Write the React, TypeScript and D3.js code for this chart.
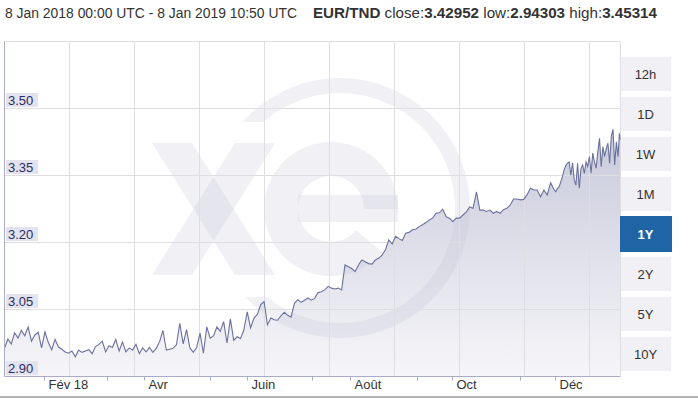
import React from "react";
import * as d3 from "d3";

// ---- data ----
const START = Date.UTC(2018, 0, 8, 0, 0);
const END = Date.UTC(2019, 0, 8, 10, 50);
const DAY = 86400000;

// day offsets from 8 Jan 2018 (every 2 days, then daily in December)
const dayOffsets: number[] = [...d3.range(0, 326, 2), ...d3.range(326, 365, 1), 364.8, 365.45];

const rates: number[] = [
  2.962, 2.983, 2.972, 2.997, 2.985, 3.002, 2.990, 3.010, 2.978, 2.992,
  2.998, 2.963, 2.999, 2.975, 2.959, 2.982, 2.965, 2.960, 2.954, 2.951,
  2.956, 2.943, 2.958, 2.953, 2.956, 2.959, 2.950, 2.966, 2.971, 2.978,
  2.954, 2.968, 2.964, 2.982, 2.956, 2.976, 2.954, 2.963, 2.958, 2.971,
  2.950, 2.963, 2.954, 2.964, 2.953, 2.962, 2.977, 3.002, 2.958, 2.960,
  2.962, 2.970, 3.018, 2.972, 3.004, 2.963, 2.953, 2.964, 2.996, 2.951,
  3.010, 2.985, 2.990, 3.010, 3.000, 3.022, 2.974, 3.028, 2.980, 2.988,
  2.984, 3.003, 3.044, 3.008, 3.030, 3.038, 3.060, 3.067, 3.015, 3.030,
  3.026, 3.025, 3.035, 3.043, 3.036, 3.032, 3.063, 3.071, 3.065, 3.070,
  3.075, 3.070, 3.074, 3.087, 3.089, 3.093, 3.101, 3.097, 3.095, 3.097,
  3.093, 3.149, 3.145, 3.141, 3.134, 3.149, 3.160, 3.156, 3.152, 3.151,
  3.160, 3.164, 3.171, 3.183, 3.205, 3.196, 3.213, 3.208, 3.204, 3.220,
  3.222, 3.228, 3.229, 3.235, 3.239, 3.244, 3.250, 3.254, 3.265, 3.266,
  3.274, 3.257, 3.254, 3.246, 3.254, 3.254, 3.261, 3.268, 3.279, 3.276,
  3.313, 3.272, 3.272, 3.269, 3.272, 3.265, 3.269, 3.265, 3.273, 3.276,
  3.283, 3.297, 3.297, 3.295, 3.296, 3.306, 3.321, 3.317, 3.317, 3.302,
  3.317, 3.306, 3.333,
  // daily, 26 Nov 2018 onwards
  3.318, 3.313, 3.320, 3.324, 3.335, 3.347, 3.362, 3.372, 3.377, 3.380,
  3.350, 3.378, 3.340, 3.328, 3.377, 3.321, 3.365, 3.373, 3.354, 3.380,
  3.370, 3.392, 3.355, 3.400, 3.380, 3.366, 3.403, 3.433, 3.369, 3.414,
  3.392, 3.410, 3.422, 3.377, 3.437, 3.453, 3.373, 3.425, 3.392, 3.444,
  3.430,
];

const yDomain = [2.9, 3.65];
const yTicks = [2.9, 3.05, 3.2, 3.35, 3.5];
const yGrid = [3.05, 3.2, 3.35, 3.5, 3.65];
const yTickLabels = ["2.90", "3.05", "3.20", "3.35", "3.50"];

const xLabelDates = ["2018-02-01", "2018-04-01", "2018-06-01", "2018-08-01", "2018-10-01", "2018-12-01"];
const xLabelTexts = ["Fév 18", "Avr", "Juin", "Août", "Oct", "Déc"];
const xMinorTickDates = ["2018-03-10", "2018-05-10", "2018-07-10", "2018-09-10", "2018-11-10"];

const buttons = ["12h", "1D", "1W", "1M", "1Y", "2Y", "5Y", "10Y"];
const activeButton = "1Y";

const headerRange = "8 Jan 2018 00:00 UTC - 8 Jan 2019 10:50 UTC";
const headerPair = "EUR/TND";
const headerClose = "3.42952";
const headerLow = "2.94303";
const headerHigh = "3.45314";

// ---- component ----
export default function App() {
  const W = 698;
  const H = 398;
  const left = 4.5;
  const right = 620.5;
  const top = 41.5;
  const bottom = 376;

  const x = d3.scaleUtc().domain([new Date(START), new Date(END)]).range([left, right]);
  const y = d3.scaleLinear().domain(yDomain).range([bottom, top]);

  const data = dayOffsets.map((d, i) => ({ date: new Date(START + d * DAY), value: rates[i] }));

  const line = d3
    .line<{ date: Date; value: number }>()
    .x((d) => x(d.date))
    .y((d) => y(d.value));
  const area = d3
    .area<{ date: Date; value: number }>()
    .x((d) => x(d.date))
    .y0(bottom)
    .y1((d) => y(d.value));

  const crisp = (v: number) => Math.round(v - 0.5) + 0.5;
  const vGrid = d3.range(left + 65, right - 2, 65);

  const ringPath = d3.arc()({ innerRadius: 115, outerRadius: 130, startAngle: 0, endAngle: 2 * Math.PI } as any) as string;
  const ePath = d3.arc()({ innerRadius: 33, outerRadius: 67, startAngle: 2.27, endAngle: Math.PI / 2 + 2 * Math.PI } as any) as string;

  const font = "'Liberation Sans', Arial, Helvetica, sans-serif";
  const axisColor = "#a9abc8";
  const gridColor = "#dedee2";

  return (
    <svg
      width={W}
      height={H}
      viewBox={`0 0 ${W} ${H}`}
      style={{ position: "absolute", left: 0, top: 0, background: "#fff" }}
      fontFamily={font}
    >
      <defs>
        <linearGradient id="areaGrad" x1="0" y1={top} x2="0" y2={bottom} gradientUnits="userSpaceOnUse">
          <stop offset="0%" stopColor="#b8bad0" />
          <stop offset="100%" stopColor="#f6f6f9" />
        </linearGradient>
        <clipPath id="plotClip">
          <rect x={left} y={top} width={right - left} height={bottom - top} />
        </clipPath>
        <clipPath id="ringClip">
          <rect x={0} y={0} width={W} height={122} />
          <rect x={0} y={297} width={W} height={H - 297} />
          <rect x={340} y={0} width={W - 340} height={H} />
        </clipPath>
      </defs>

      {/* header */}
      <g fill="#333">
        <text x={5} y={18} fontSize={14} textLength={292} lengthAdjust="spacingAndGlyphs">
          {headerRange}
        </text>
        <text x={313} y={18} fontSize={15} textLength={344} lengthAdjust="spacingAndGlyphs">
          <tspan fontWeight="bold">{headerPair}</tspan>
          {" close:"}
          <tspan fontWeight="bold">{headerClose}</tspan>
          {" low:"}
          <tspan fontWeight="bold">{headerLow}</tspan>
          {" high:"}
          <tspan fontWeight="bold">{headerHigh}</tspan>
        </text>
      </g>

      {/* area */}
      <path d={area(data) as string} fill="url(#areaGrad)" clipPath="url(#plotClip)" />

      {/* watermark */}
      <g fill="#c4c4da" fillOpacity={0.26}>
        <g clipPath="url(#ringClip)">
          <path d={ringPath} transform="translate(340,208)" />
        </g>
        <path d={ePath} transform="translate(331,209)" />
        <rect x={298} y={195} width={100} height={27} />
        <polygon points="152,143 192,143 275,275 235,275" />
        <polygon points="235,143 275,143 192,275 152,275" />
      </g>

      {/* grid */}
      <g stroke={gridColor} strokeWidth={1}>
        {yGrid.map((v) => (
          <line key={"h" + v} x1={left} x2={right} y1={crisp(y(v))} y2={crisp(y(v))} />
        ))}
        {vGrid.map((gx) => (
          <line key={"v" + gx} x1={crisp(gx)} x2={crisp(gx)} y1={top} y2={bottom} />
        ))}
        <line x1={right} x2={right} y1={top} y2={bottom} />
      </g>

      {/* line */}
      <path d={line(data) as string} fill="none" stroke="#6b719d" strokeWidth={1.1} clipPath="url(#plotClip)" />

      {/* axes */}
      <line x1={left} x2={left} y1={top} y2={bottom + 0.5} stroke={axisColor} />
      <line x1={left} x2={right} y1={bottom + 0.5} y2={bottom + 0.5} stroke={axisColor} />
      {xLabelDates.map((d, i) => {
        const tx = crisp(x(new Date(d + "T00:00:00Z")));
        return (
          <g key={d}>
            <line x1={tx} x2={tx} y1={bottom + 0.5} y2={bottom + 4.5} stroke={axisColor} />
            <text x={tx + 4} y={389} fontSize={13} fill="#333">
              {xLabelTexts[i]}
            </text>
          </g>
        );
      })}
      {xMinorTickDates.map((d) => {
        const tx = crisp(x(new Date(d + "T00:00:00Z")));
        return <line key={d} x1={tx} x2={tx} y1={bottom + 0.5} y2={bottom + 4.5} stroke={axisColor} />;
      })}

      {/* y labels */}
      {yTicks.map((v, i) => {
        const yy = Math.round(y(v));
        return (
          <g key={"yl" + v}>
            <rect x={6} y={yy - 15} width={32} height={14} fill="#e3e3ef" />
            <text x={8} y={yy - 3} fontSize={13} fill="#2c2c64">
              {yTickLabels[i]}
            </text>
          </g>
        );
      })}

      {/* range buttons */}
      {buttons.map((b, i) => {
        const active = b === activeButton;
        const by = 57 + i * 40;
        return (
          <g key={b}>
            <rect
              x={active ? 620 : 621}
              y={active ? by - 1 : by}
              width={active ? 52 : 50}
              height={active ? 36 : 34}
              fill={active ? "#1f65a5" : "#f0f0f5"}
            />
            <text
              x={645.5}
              y={by + 22}
              textAnchor="middle"
              fontSize={13}
              fontWeight={active ? "bold" : "normal"}
              fill={active ? "#fff" : "#333"}
            >
              {b}
            </text>
          </g>
        );
      })}

      {/* bottom rule */}
      <rect x={0} y={396} width={W} height={2} fill="#b4b4b4" />
    </svg>
  );
}
